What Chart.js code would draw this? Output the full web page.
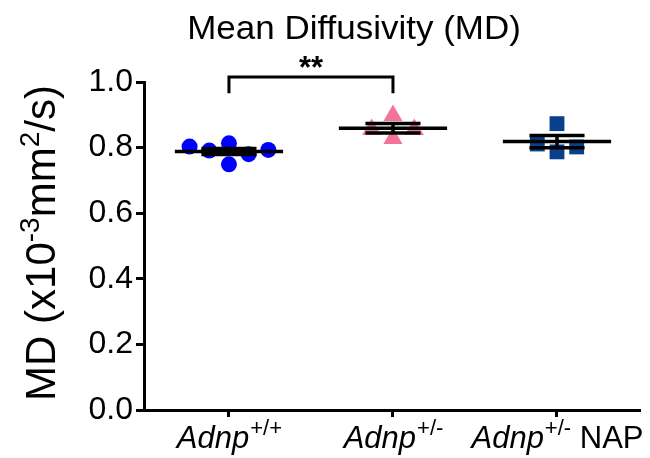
<!DOCTYPE html>
<html>
<head>
<meta charset="utf-8">
<script src="https://cdn.jsdelivr.net/npm/chart.js@4.4.1/dist/chart.umd.min.js"></script>
<style>
  html, body { margin: 0; padding: 0; background: #ffffff; }
  #wrap { width: 650px; height: 458px; position: relative; }
</style>
</head>
<body>
<div id="wrap"><canvas id="c" width="650" height="458"></canvas></div>
<script>
// ---- data ----
const title = 'Mean Diffusivity (MD)';
const groupNames = ['Adnp', 'Adnp', 'Adnp'];
const groupSups = ['+/+', '+/-', '+/-'];
const groupSuffix = ['', '', ' NAP'];
const wildType = [0.803, 0.791, 0.813, 0.749, 0.780, 0.793];
const hetero = [0.855, 0.898, 0.828, 0.855];
const heteroNAP = [0.811, 0.873, 0.787, 0.802];
// horizontal jitter of each point (in category units)
const wildJitter = [-0.24, -0.12, 0, 0, 0.12, 0.24];
const heteroJitter = [-0.13, 0, 0, 0.13];
const napJitter = [-0.12, 0, 0, 0.12];
const yTicks = [0, 0.2, 0.4, 0.6, 0.8, 1.0];
const sigText = '**';

const colors = ['#0000FF', '#F4739B', '#0A3F8C'];
const styles = ['circle', 'triangle', 'rect'];
const radii = [8, 11, 10.5];

function mean(a) { return a.reduce((s, v) => s + v, 0) / a.length; }
function sem(a) {
  const m = mean(a);
  const sd = Math.sqrt(a.reduce((s, v) => s + (v - m) * (v - m), 0) / (a.length - 1));
  return sd / Math.sqrt(a.length);
}

const groups = [wildType, hetero, heteroNAP];
const jitters = [wildJitter, heteroJitter, napJitter];
const datasets = [];
const LW = 3.5;

groups.forEach((g, i) => {
  const c = i + 1;
  const m = mean(g), s = sem(g);
  datasets.push({
    type: 'scatter',
    data: g.map((v, k) => ({ x: c + jitters[i][k], y: v })),
    backgroundColor: colors[i],
    borderColor: colors[i],
    borderWidth: 0,
    pointStyle: styles[i],
    pointRadius: radii[i],
    order: 2
  });
  datasets.push({
    type: 'line',
    data: [{ x: c - 0.33, y: m }, { x: c + 0.33, y: m }],
    borderColor: '#000', borderWidth: LW, pointRadius: 0, order: 1
  });
  datasets.push({
    type: 'line',
    data: [{ x: c, y: m - s }, { x: c, y: m + s }],
    borderColor: '#000', borderWidth: LW, pointRadius: 0, order: 1
  });
  [m - s, m + s].forEach(yv => datasets.push({
    type: 'line',
    data: [{ x: c - 0.168, y: yv }, { x: c + 0.168, y: yv }],
    borderColor: '#000', borderWidth: LW, pointRadius: 0, order: 1
  }));
});

// significance bracket between group 1 and 2
const bracketLow = 0.966, bracketHigh = 1.015;
datasets.push({
  type: 'line',
  data: [{ x: 1, y: bracketLow }, { x: 1, y: bracketHigh }, { x: 2, y: bracketHigh }, { x: 2, y: bracketLow }],
  borderColor: '#000', borderWidth: 3, pointRadius: 0, clip: false, order: 0,
  borderCapStyle: 'butt', borderJoinStyle: 'miter'
});

const FONT = '"Liberation Sans", Arial, sans-serif';

const drawText = {
  id: 'drawText',
  afterDraw(chart) {
    const ctx = chart.ctx;
    const xs = chart.scales.x;
    ctx.save();
    ctx.fillStyle = '#000';
    // Title
    ctx.font = '33px ' + FONT;
    ctx.textAlign = 'center';
    ctx.textBaseline = 'alphabetic';
    ctx.save();
    ctx.translate(354, 39);
    ctx.scale(1.06, 1);
    ctx.fillText(title, 0, 0);
    ctx.restore();

    // significance stars
    ctx.font = 'bold 31px ' + FONT;
    ctx.fillText(sigText, (xs.getPixelForValue(1) + xs.getPixelForValue(2)) / 2, 78);

    // x labels
    ctx.textAlign = 'left';
    const baseY = 448;
    for (let i = 0; i < 3; i++) {
      const cx = xs.getPixelForValue(i + 1);
      ctx.font = 'italic 31px ' + FONT;
      const w1 = ctx.measureText(groupNames[i]).width;
      ctx.font = '22px ' + FONT;
      const w2 = ctx.measureText(groupSups[i]).width;
      ctx.font = '31px ' + FONT;
      const w3 = ctx.measureText(groupSuffix[i]).width;
      let x = cx - (w1 + w2 + w3) / 2;
      ctx.font = 'italic 31px ' + FONT;
      ctx.fillText(groupNames[i], x, baseY);
      x += w1 + 1;
      ctx.font = '22px ' + FONT;
      ctx.fillText(groupSups[i], x, baseY - 13);
      x += w2;
      ctx.font = '31px ' + FONT;
      ctx.fillText(groupSuffix[i], x, baseY);
    }

    // y title
    ctx.save();
    ctx.translate(55, 243);
    ctx.rotate(-Math.PI / 2);
    const parts = [['MD (x10', 42, 0], ['-3', 28, 16], ['mm', 42, 0], ['2', 28, 16], ['/s)', 42, 0]];
    let tw = 0;
    parts.forEach(p => { ctx.font = p[1] + 'px ' + FONT; tw += ctx.measureText(p[0]).width; });
    let px = -tw / 2;
    parts.forEach(p => {
      ctx.font = p[1] + 'px ' + FONT;
      ctx.fillText(p[0], px, -p[2]);
      px += ctx.measureText(p[0]).width;
    });
    ctx.restore();
    ctx.restore();
  }
};

new Chart(document.getElementById('c'), {
  data: { datasets },
  options: {
    responsive: false,
    animation: false,
    layout: { padding: { left: 0, right: 5, top: 82, bottom: 0 } },
    plugins: { legend: { display: false }, tooltip: { enabled: false } },
    scales: {
      x: {
        type: 'linear',
        min: 0.482, max: 3.5,
        afterBuildTicks(scale) { scale.ticks = [{ value: 1 }, { value: 2 }, { value: 3 }]; },
        afterFit(scale) { scale.height = 48; },
        grid: { drawOnChartArea: false, drawTicks: true, tickLength: 7, color: '#000', lineWidth: 3 },
        border: { display: true, color: '#000', width: 3 },
        ticks: { callback: () => '', font: { size: 1 } }
      },
      y: {
        min: 0, max: 1.0,
        afterBuildTicks(scale) { scale.ticks = yTicks.map(v => ({ value: v })); },
        afterFit(scale) { scale.width = 144; },
        grid: { drawOnChartArea: false, drawTicks: true, tickLength: 8, color: '#000', lineWidth: 3 },
        border: { display: true, color: '#000', width: 3 },
        ticks: {
          color: '#000', padding: 3,
          font: { family: FONT, size: 32 },
          callback: v => v.toFixed(1)
        }
      }
    }
  },
  plugins: [drawText]
});
</script>
</body>
</html>
